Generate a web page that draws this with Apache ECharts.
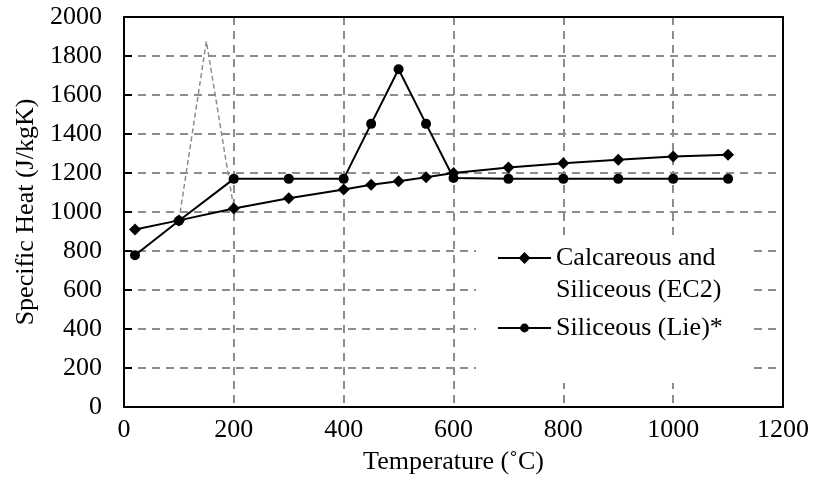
<!DOCTYPE html>
<html><head><meta charset="utf-8">
<script src="https://cdn.jsdelivr.net/npm/echarts@6/dist/echarts.min.js"></script>
<style>html,body{margin:0;padding:0;background:#fff}#c{width:813px;height:495px}</style>
</head><body><div id="c"></div>
<script>
const temps = [20, 100, 200, 300, 400, 450, 500, 550, 600, 700, 800, 900, 1000, 1100];
const ec2Values = [910, 957, 1018, 1070, 1115, 1140, 1158, 1178, 1200, 1228, 1250, 1268, 1285, 1293];
const lieValues = [778, 955, 1170, 1170, 1170, 1452, 1732, 1452, 1174, 1170, 1170, 1170, 1170, 1170];
const dashTemps = [100, 150, 200];
const dashValues = [957, 1875, 1018];
const seriesNames = ['Calcareous and Siliceous (EC2)', 'Siliceous (Lie)*'];
const xTitle = 'Temperature (˚C)';
const yTitle = 'Specific Heat (J/kgK)';

const FONT = 'Liberation Serif';
const FS = 26;
const pair = (xs, ys) => xs.map((x, i) => [x, ys[i]]);
const grayDash = { color: '#8c8c8c', width: 2, type: [8, 6] };
const plain = v => String(v);

const chart = echarts.init(document.getElementById('c'), null, { renderer: 'canvas' });
chart.setOption({
  animation: false,
  backgroundColor: '#fff',
  textStyle: { fontFamily: FONT, color: '#000' },
  grid: { left: 124, right: 30, top: 17, bottom: 88 },
  xAxis: [{
    type: 'value', min: 0, max: 1200, interval: 200,
    name: xTitle, nameLocation: 'middle', nameGap: 42,
    nameTextStyle: { fontFamily: FONT, fontSize: FS, color: '#000' },
    axisLine: { show: true, lineStyle: { color: '#000', width: 2 } },
    axisTick: { show: false },
    axisLabel: { fontFamily: FONT, fontSize: FS, color: '#000', margin: 10, formatter: plain },
    splitLine: { show: true, lineStyle: grayDash }
  }, {
    type: 'value', min: 0, max: 1200, position: 'top',
    axisLine: { show: true, onZero: false, lineStyle: { color: '#000', width: 2 } },
    axisTick: { show: false }, axisLabel: { show: false }, splitLine: { show: false }
  }],
  yAxis: [{
    type: 'value', min: 0, max: 2000, interval: 200,
    name: yTitle, nameLocation: 'middle', nameGap: 76,
    nameTextStyle: { fontFamily: FONT, fontSize: FS, color: '#000' },
    axisLine: { show: true, lineStyle: { color: '#000', width: 2 } },
    axisTick: { show: true, inside: true, length: 8, lineStyle: { color: '#000', width: 2 } },
    axisLabel: { fontFamily: FONT, fontSize: FS, color: '#000', margin: 22, formatter: plain },
    splitLine: { show: true, lineStyle: grayDash }
  }, {
    type: 'value', min: 0, max: 2000, position: 'right',
    axisLine: { show: true, onZero: false, lineStyle: { color: '#000', width: 2 } },
    axisTick: { show: false }, axisLabel: { show: false }, splitLine: { show: false }
  }],
  legend: [{
    z: 4,
    left: 476, top: 235,
    padding: [77, 26, 39, 21],
    backgroundColor: '#fff',
    orient: 'vertical',
    itemWidth: 53, itemHeight: 11,
    data: [{ name: seriesNames[1] }],
    textStyle: { fontFamily: FONT, fontSize: FS, color: '#000', lineHeight: 32 }
  }, {
    z: 5,
    left: 497, top: 210,
    padding: 0,
    orient: 'vertical',
    itemWidth: 53, itemHeight: 15,
    data: [{ name: seriesNames[0] }],
    formatter: n => '\n' + n.replace(' and ', ' and\n'),
    textStyle: { fontFamily: FONT, fontSize: FS, color: '#000', lineHeight: 32 }
  }],
  series: [{
    name: seriesNames[0], type: 'line',
    data: pair(temps, ec2Values),
    symbol: 'diamond', symbolSize: 12,
    lineStyle: { color: '#000', width: 2 },
    itemStyle: { color: '#000' },
    z: 3
  }, {
    name: seriesNames[1], type: 'line',
    data: pair(temps, lieValues),
    symbol: 'circle', symbolSize: 10,
    lineStyle: { color: '#000', width: 2 },
    itemStyle: { color: '#000' },
    z: 3
  }, {
    name: 'peak', type: 'line',
    data: pair(dashTemps, dashValues),
    symbol: 'none',
    lineStyle: { color: '#8c8c8c', width: 1.5, type: [5, 3] },
    z: 2
  }]
});
</script></body></html>
